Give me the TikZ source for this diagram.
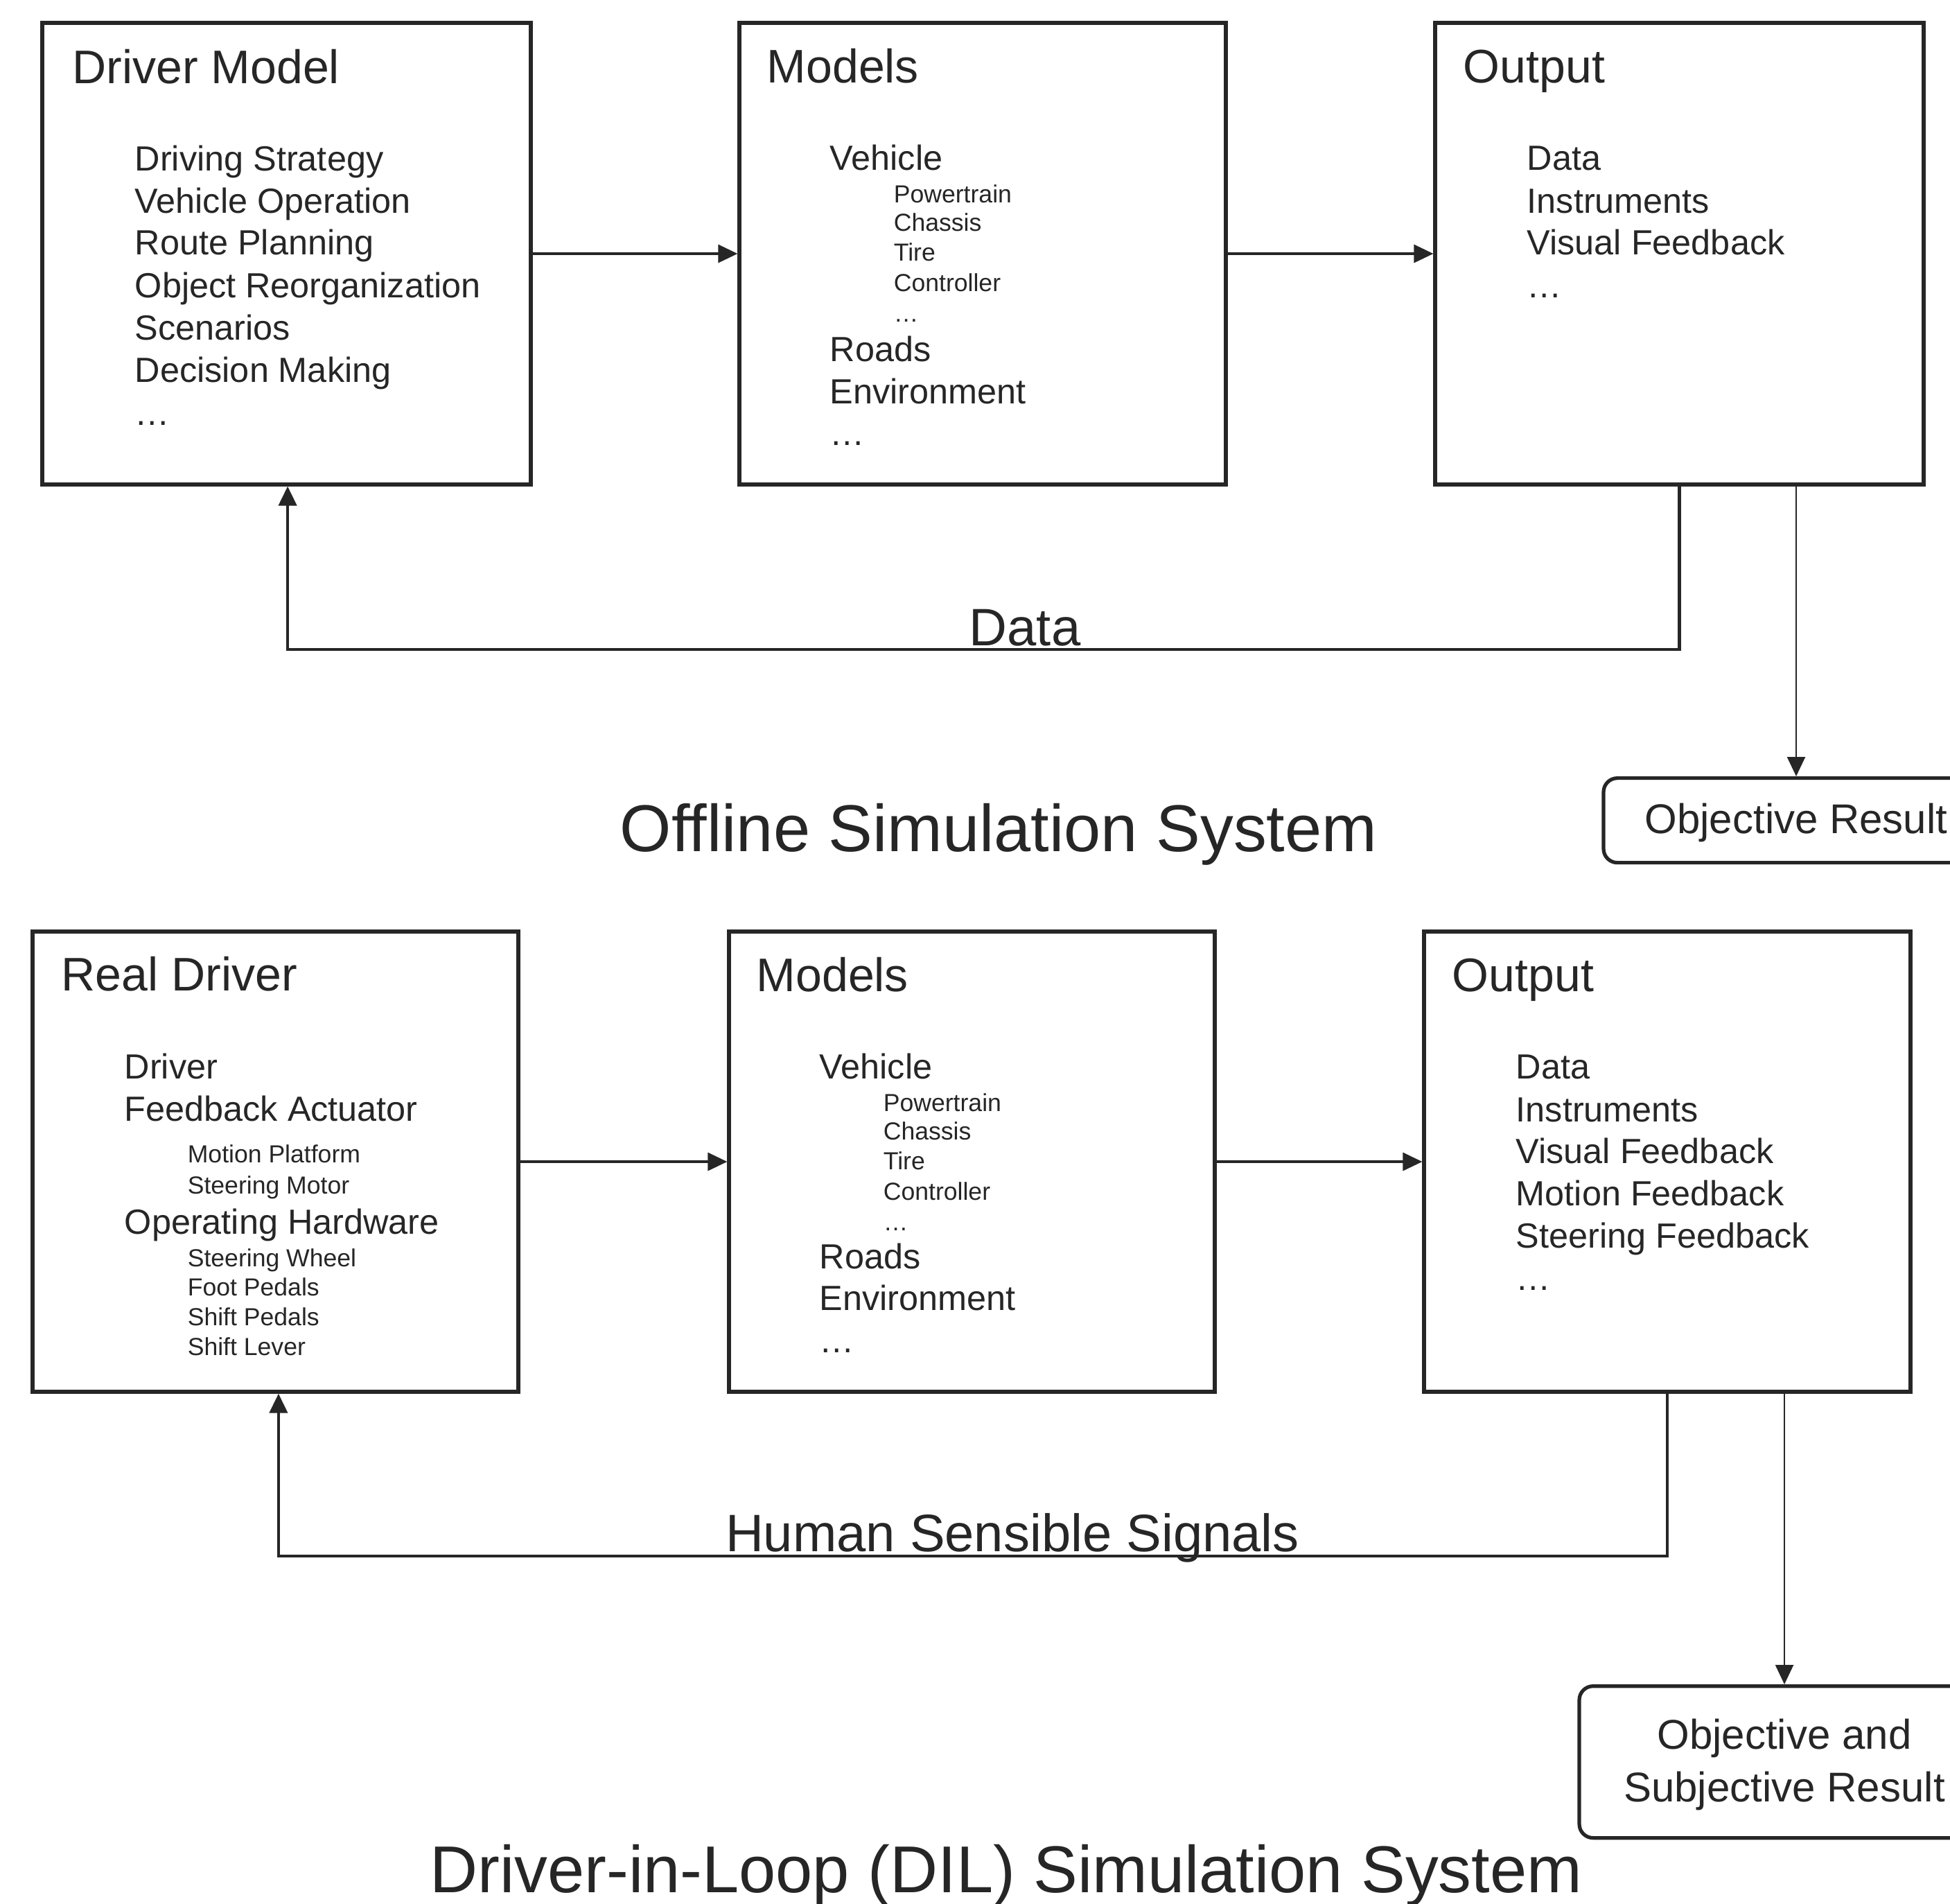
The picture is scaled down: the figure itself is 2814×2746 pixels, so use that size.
\documentclass[tikz,border=0pt]{standalone}
\usepackage{fontspec}
\setmainfont{Liberation Sans}
\usetikzlibrary{arrows.meta}
\definecolor{ink}{HTML}{262626}
\begin{document}
\begin{tikzpicture}[x=0.25pt,y=-0.25pt,
  every node/.style={text=ink},
  bigbox/.style={draw=ink,line width=1.3pt,rectangle,inner sep=0,minimum width=176pt,minimum height=166pt},
  boxtitle/.style={anchor=base west,inner sep=0,font=\fontsize{17}{20}\selectfont},
  item/.style={anchor=base west,inner sep=0,font=\fontsize{12.6}{15}\selectfont},
  subitem/.style={anchor=base west,inner sep=0,font=\fontsize{8.9}{11}\selectfont},
  looplabel/.style={anchor=base,inner sep=0,font=\fontsize{19}{23}\selectfont},
  systitle/.style={anchor=base,inner sep=0,font=\fontsize{23.9}{28}\selectfont},
  resbox/.style={draw=ink,line width=1.3pt,rounded corners=5pt,anchor=north,align=center,inner sep=0,font=\fontsize{15}{18.75}\selectfont},
  flow/.style={draw=ink,line width=0.8pt,-{Triangle[length=7pt,width=6.5pt]}},
  loopline/.style={draw=ink,line width=1.1pt,-{Triangle[length=7pt,width=6.5pt]}},
  resarrow/.style={draw=ink,line width=0.6pt,-{Triangle[length=7pt,width=6.5pt]}}
]
\useasboundingbox (0,0) rectangle (2814,2746);
\clip (0,0) rectangle (2814,2746);

% ---------- Offline Simulation System ----------
\node[bigbox,minimum width=176.25pt,minimum height=166.5pt] (dm) at (413.5,366) {};
\node[bigbox,minimum width=175.5pt,minimum height=166.5pt] (mo) at (1418,366) {};
\node[bigbox,minimum width=176.25pt,minimum height=166.5pt] (out) at (2423.5,366) {};

\node[boxtitle] (dmt) at (104,120) {Driver Model};
\node[item] (dm1) at (194,246) {Driving Strategy};
\node[item] (dm2) at (194,307) {Vehicle Operation};
\node[item] (dm3) at (194,367) {Route Planning};
\node[item] (dm4) at (194,429) {Object Reorganization};
\node[item] (dm5) at (194,490) {Scenarios};
\node[item] (dm6) at (194,551) {Decision Making};
\node[item] (dm7) at (194,613) {…};

\node[boxtitle] (mot) at (1106,119) {Models};
\node[item] (mo1) at (1197,245) {Vehicle};
\node[subitem] (mo1a) at (1289,292) {Powertrain};
\node[subitem] (mo1b) at (1289,333) {Chassis};
\node[subitem] (mo1c) at (1289,376) {Tire};
\node[subitem] (mo1d) at (1289,420) {Controller};
\node[subitem] (mo1e) at (1289,464) {…};
\node[item] (mo2) at (1197,521) {Roads};
\node[item] (mo3) at (1197,582) {Environment};
\node[item] (mo4) at (1197,642) {…};

\node[boxtitle] (outt) at (2111,119) {Output};
\node[item] (out1) at (2203,245) {Data};
\node[item] (out2) at (2203,307) {Instruments};
\node[item] (out3) at (2203,367) {Visual Feedback};
\node[item] (out4) at (2203,429) {…};

\draw[flow] (dm.east) -- (mo.west);
\draw[flow] (mo.east) -- (out.west);

\coordinate (fbA) at (2423.5,937);
\draw[loopline] (out.south) -- (fbA) -| ([xshift=0.4pt]dm.south);
\node[looplabel] (datal) at (1479,931) {Data};

\node[resbox,minimum width=139pt,minimum height=30.5pt,text depth=1.2pt] (res1) at (2592,1120) {Objective Result};
\draw[resarrow] (out.south -| res1.north) -- (res1.north);

\node[systitle] (sys1) at (1441,1228) {Offline Simulation System};

% ---------- Driver-in-Loop Simulation System ----------
\node[bigbox,minimum width=175.25pt,minimum height=166pt] (rd) at (397.5,1676) {};
\node[bigbox,minimum width=175.25pt,minimum height=166pt] (mob) at (1402.5,1676) {};
\node[bigbox,minimum width=175.5pt,minimum height=166pt] (outb) at (2406,1676) {};

\node[boxtitle] (rdt) at (88,1429) {Real Driver};
\node[item] (rd1) at (179,1556) {Driver};
\node[item] (rd2) at (179,1617) {Feedback Actuator};
\node[subitem] (rd2a) at (270,1677) {Motion Platform};
\node[subitem] (rd2b) at (270,1722) {Steering Motor};
\node[item] (rd3) at (179,1780) {Operating Hardware};
\node[subitem] (rd3a) at (270,1827) {Steering Wheel};
\node[subitem] (rd3b) at (270,1869) {Foot Pedals};
\node[subitem] (rd3c) at (270,1912) {Shift Pedals};
\node[subitem] (rd3d) at (270,1955) {Shift Lever};

\node[boxtitle] (mobt) at (1091,1430) {Models};
\node[item] (mob1) at (1182,1556) {Vehicle};
\node[subitem] (mob1a) at (1274,1603) {Powertrain};
\node[subitem] (mob1b) at (1274,1644) {Chassis};
\node[subitem] (mob1c) at (1274,1687) {Tire};
\node[subitem] (mob1d) at (1274,1731) {Controller};
\node[subitem] (mob1e) at (1274,1775) {…};
\node[item] (mob2) at (1182,1830) {Roads};
\node[item] (mob3) at (1182,1890) {Environment};
\node[item] (mob4) at (1182,1951) {…};

\node[boxtitle] (outbt) at (2095,1430) {Output};
\node[item] (outb1) at (2187,1556) {Data};
\node[item] (outb2) at (2187,1618) {Instruments};
\node[item] (outb3) at (2187,1678) {Visual Feedback};
\node[item] (outb4) at (2187,1739) {Motion Feedback};
\node[item] (outb5) at (2187,1800) {Steering Feedback};
\node[item] (outb6) at (2187,1861) {…};

\draw[flow] (rd.east) -- (mob.west);
\draw[flow] (mob.east) -- (outb.west);

\coordinate (fbB) at (2406,2245);
\draw[loopline] (outb.south) -- (fbB) -| ([xshift=1.1pt]rd.south);
\node[looplabel] (hss) at (1461,2238) {Human Sensible Signals};

\node[resbox,minimum width=148pt,minimum height=54.75pt,text depth=1.2pt] (res2) at (2575,2430) {Objective and\\Subjective Result};
\draw[resarrow] (outb.south -| res2.north) -- (res2.north);

\node[systitle] (sys2) at (1452,2730) {Driver-in-Loop (DIL) Simulation System};
\end{tikzpicture}
\end{document}
